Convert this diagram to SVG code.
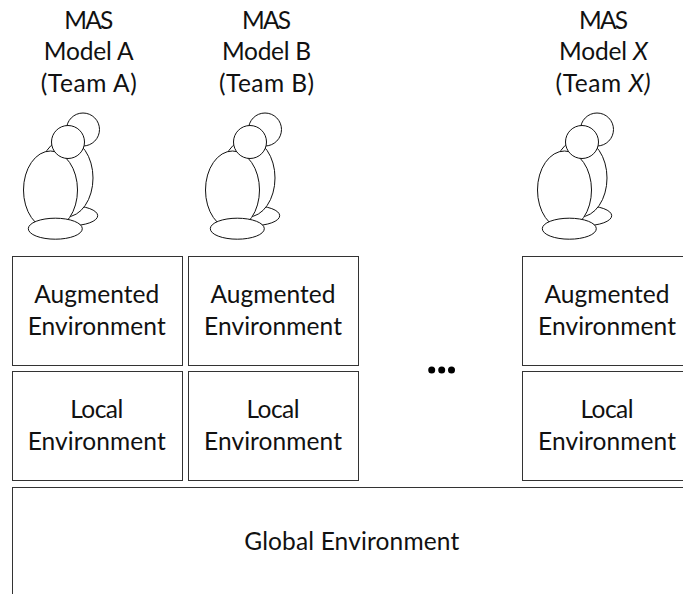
<svg xmlns="http://www.w3.org/2000/svg" width="683" height="594" viewBox="0 0 683 594">
<style>
text{font-family:"Lato","Open Sans",sans-serif;font-size:24.5px;fill:#111;text-anchor:middle}
.b{fill:#fff;stroke:#333;stroke-width:1}
.f{fill:#fff;stroke:#111;stroke-width:1}
</style>
<defs>
<g id="agent">
<ellipse class="f" cx="70.7" cy="215.7" rx="27" ry="10"/>
<ellipse class="f" cx="66" cy="178" rx="27" ry="39"/>
<circle class="f" cx="83" cy="129.5" r="16.5"/>
<ellipse class="f" cx="50.5" cy="190" rx="27" ry="39"/>
<ellipse class="f" cx="55.3" cy="228.7" rx="27" ry="10.5"/>
<circle class="f" cx="68" cy="142" r="16.5"/>
</g>
</defs>
<rect width="683" height="594" fill="#fff"/>
<g id="team-a">
<text x="88.7" y="29" textLength="49">MAS</text><text x="88.7" y="60" textLength="90">Model A</text><text x="88.7" y="92" textLength="96">(Team A)</text>
<use href="#agent"/>
</g>
<g id="team-b">
<text x="266.5" y="29" textLength="49">MAS</text><text x="266.5" y="60" textLength="89">Model B</text><text x="266.5" y="92" textLength="95">(Team B)</text>
<use href="#agent" x="182"/>
</g>
<g id="team-x">
<text x="603.5" y="29" textLength="49">MAS</text><text x="603.5" y="60" textLength="89">Model <tspan font-style="italic">X</tspan></text><text x="603" y="92" textLength="95">(Team <tspan font-style="italic">X)</tspan></text>
<use href="#agent" x="514"/>
</g>
<g id="aug-a"><rect class="b" x="12.5" y="256.5" width="170" height="109"/><text x="96.7" y="303" textLength="125">Augmented</text><text x="96.7" y="335" textLength="138">Environment</text></g>
<g id="aug-b"><rect class="b" x="188.5" y="256.5" width="170" height="109"/><text x="273" y="303" textLength="125">Augmented</text><text x="273" y="335" textLength="138">Environment</text></g>
<g id="aug-x"><rect class="b" x="522.5" y="256.5" width="170" height="109"/><text x="607" y="303" textLength="125">Augmented</text><text x="607" y="335" textLength="138">Environment</text></g>
<g id="local-a"><rect class="b" x="12.5" y="371.5" width="170" height="109"/><text x="96.7" y="418" textLength="53">Local</text><text x="96.7" y="450" textLength="138">Environment</text></g>
<g id="local-b"><rect class="b" x="188.5" y="371.5" width="170" height="109"/><text x="273" y="418" textLength="53">Local</text><text x="273" y="450" textLength="138">Environment</text></g>
<g id="local-x"><rect class="b" x="522.5" y="371.5" width="170" height="109"/><text x="607" y="418" textLength="53">Local</text><text x="607" y="450" textLength="138">Environment</text></g>
<g id="ellipsis"><circle cx="431.7" cy="370" r="3.5"/><circle cx="441.7" cy="370" r="3.5"/><circle cx="451.5" cy="370" r="3.5"/></g>
<g id="global"><rect class="b" x="12.5" y="487.5" width="700" height="140"/><text x="351.7" y="550" textLength="215">Global Environment</text></g>
<g id="connectors"/>
</svg>
